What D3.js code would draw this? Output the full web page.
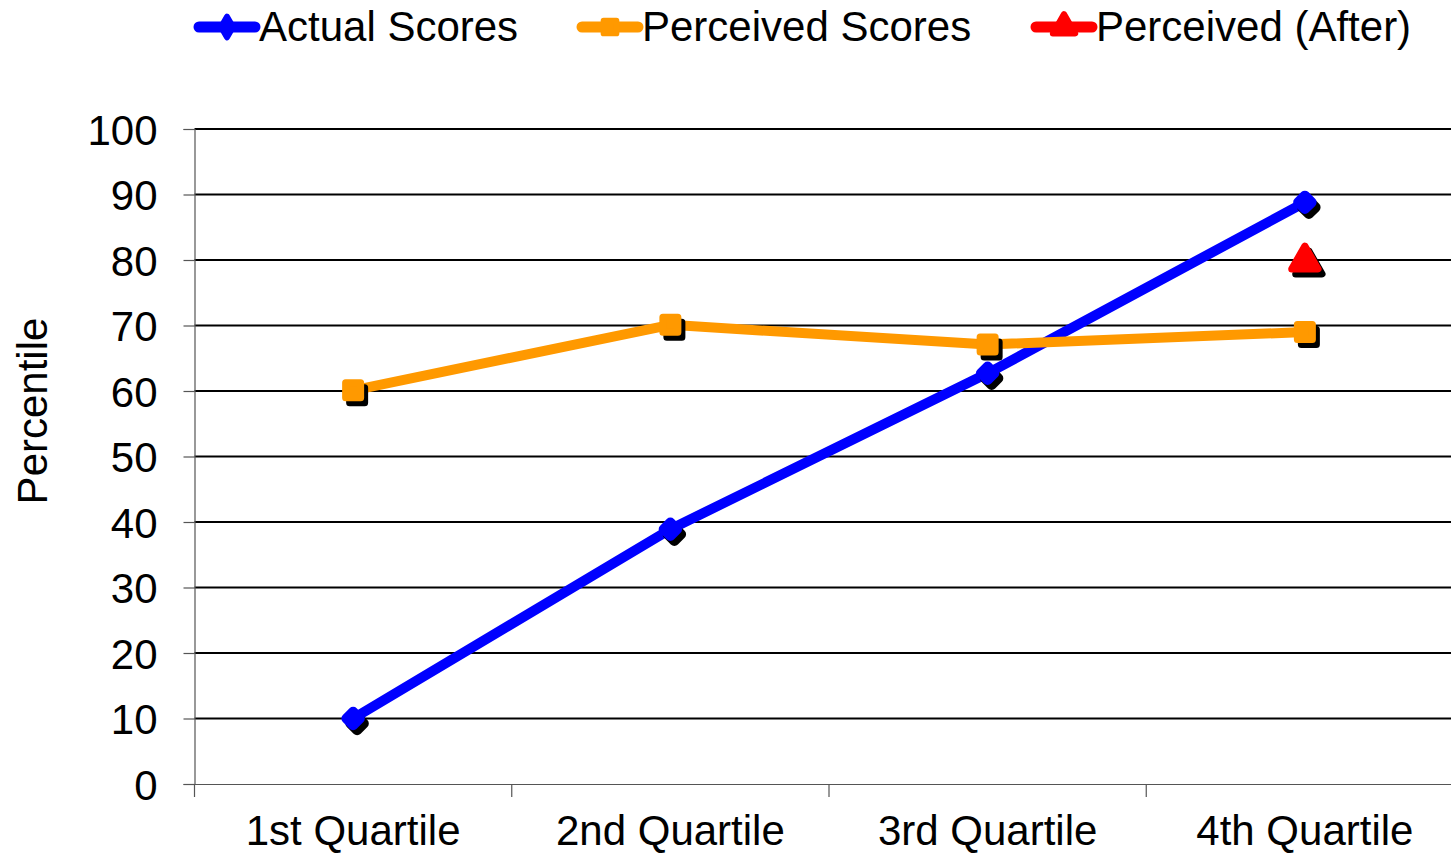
<!DOCTYPE html>
<html>
<head>
<meta charset="utf-8">
<script src="https://cdn.jsdelivr.net/npm/d3@7"></script>
<style>
html,body{margin:0;padding:0;background:#fff;overflow:hidden;}
svg{display:block;font-family:"Liberation Sans",Arial,sans-serif;}
</style>
</head>
<body>
<svg id="chart" width="1451" height="854"></svg>
<script>
const categories = ["1st Quartile","2nd Quartile","3rd Quartile","4th Quartile"];
const actualScores = [10, 38.9, 62.7, 88.8];
const perceivedScores = [60.1, 70.1, 67.1, 69.0];
const perceivedAfter = [null, null, null, 79.8];
const yTicks = [0,10,20,30,40,50,60,70,80,90,100];
const seriesNames = ["Actual Scores","Perceived Scores","Perceived (After)"];

const svg = d3.select("#chart");
const W = 1451, H = 854;
const x = d3.scaleBand().domain(categories).range([194.5, 1463.5]).padding(0);
const y = d3.scaleLinear().domain([0,100]).range([784, 129]);
const FS = 42;

// gridlines
svg.append("g").selectAll("line").data(yTicks.filter(d=>d>0)).join("line")
  .attr("x1",194.5).attr("x2",W).attr("y1",d=>y(d)).attr("y2",d=>y(d))
  .attr("stroke","#000").attr("stroke-width",1.8);

// y axis
const yAxis = svg.append("g").attr("transform","translate(194.5,0)")
  .call(d3.axisLeft(y).tickValues(yTicks).tickSize(11).tickPadding(26));
yAxis.select(".domain").attr("stroke","#555").attr("stroke-width",1.2);
yAxis.selectAll(".tick line").attr("stroke","#555").attr("stroke-width",1.2);
yAxis.selectAll("text").attr("font-size",FS).attr("fill","#000")
  .attr("font-family","'Liberation Sans',Arial,sans-serif").attr("dy","0.36em");

// x axis
const xAxis = svg.append("g").attr("transform","translate(0,784)")
  .call(d3.axisBottom(x).tickSize(0).tickPadding(0));
xAxis.select(".domain").attr("stroke","#555").attr("stroke-width",1.2);
xAxis.selectAll("text").attr("font-size",FS).attr("fill","#000")
  .attr("font-family","'Liberation Sans',Arial,sans-serif").attr("y",61).attr("dy",0);
// boundary ticks between categories
svg.append("g").selectAll("line").data(categories).join("line")
  .attr("x1",d=>x(d)).attr("x2",d=>x(d)).attr("y1",784).attr("y2",797)
  .attr("stroke","#555").attr("stroke-width",1.2);

// y title
svg.append("text").attr("transform","translate(47,411) rotate(-90)")
  .attr("text-anchor","middle").attr("font-size",FS).attr("fill","#000").text("Percentile");

const cx = d => x(d) + x.bandwidth()/2;
const line = d3.line().defined(d=>d.v!=null).x(d=>cx(d.c)).y(d=>y(d.v));

const sq = d3.symbol().type(d3.symbolSquare).size(225);
const rdia = d3.symbol().type(d3.symbolSquare).size(90);
const dia = d3.symbol().type(d3.symbolDiamond).size(170);
const tri = d3.symbol().type(d3.symbolTriangle).size(300);

const series = [
  {name:seriesNames[0], vals:actualScores, color:"#0000ff", sym:rdia, rot:45, lsym:dia, sw:10},
  {name:seriesNames[1], vals:perceivedScores, color:"#ff9900", sym:sq, rot:0, lsym:sq, sw:7},
  {name:seriesNames[2], vals:perceivedAfter, color:"#ff0000", sym:tri, rot:0, lsym:tri, sw:7}
];

series.forEach(s=>{
  const pts = categories.map((c,i)=>({c, v:s.vals[i]}));
  const g = svg.append("g");
  g.append("path").datum(pts).attr("d",line).attr("fill","none")
    .attr("stroke",s.color).attr("stroke-width",10).attr("stroke-linejoin","round");
  const valid = pts.filter(d=>d.v!=null);
  g.selectAll(".sh").data(valid).join("path").attr("class","sh")
    .attr("d",s.sym).attr("transform",d=>`translate(${cx(d.c)+4},${y(d.v)+5}) rotate(${s.rot})`)
    .attr("fill","#000").attr("stroke","#000").attr("stroke-width",s.sw).attr("stroke-linejoin","round");
  g.selectAll(".mk").data(valid).join("path").attr("class","mk")
    .attr("d",s.sym).attr("transform",d=>`translate(${cx(d.c)},${y(d.v)}) rotate(${s.rot})`)
    .attr("fill",s.color).attr("stroke",s.color).attr("stroke-width",s.sw).attr("stroke-linejoin","round");
});

// legend
const legX = [196, 579, 1033];
const leg = svg.append("g");
series.forEach((s,i)=>{
  const g = leg.append("g").attr("transform",`translate(${legX[i]},27)`);
  g.append("line").attr("x1",3).attr("x2",59).attr("y1",0).attr("y2",0)
    .attr("stroke",s.color).attr("stroke-width",11).attr("stroke-linecap","round");
  g.append("path").attr("d",s.lsym).attr("transform","translate(31,0) scale(0.85)")
    .attr("fill",s.color).attr("stroke",s.color).attr("stroke-width",7).attr("stroke-linejoin","round");
  g.append("text").attr("x",63).attr("y",14).attr("font-size",FS).attr("fill","#000").text(s.name);
});
</script>
</body>
</html>
